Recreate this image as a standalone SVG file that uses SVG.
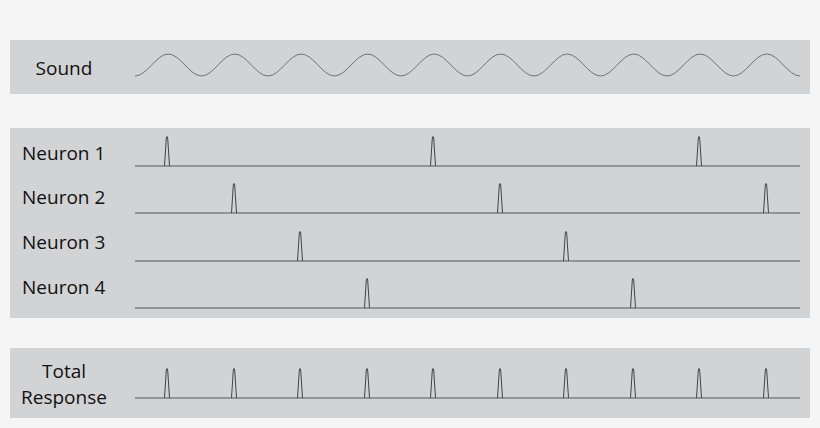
<svg xmlns="http://www.w3.org/2000/svg" width="820" height="428" viewBox="0 0 820 428">
<style>
.band{fill:#d2d3d5}
.t{font-family:"Open Sans","Liberation Sans",sans-serif;font-size:19px;fill:#111}
.ln{fill:none;stroke:#555;stroke-width:1.2}
</style>
<defs>
<path id="sp" d="M-2.5 0 L-0.7 -28 Q0 -31 0.7 -28 L2.5 0" fill="none" stroke="#444" stroke-width="1"/>
</defs>
<rect width="820" height="428" fill="#f5f5f5"/>
<g id="sound">
<rect class="band" x="10" y="40" width="800" height="54"/>
<text class="t" x="64" y="75" text-anchor="middle">Sound</text>
<path fill="none" stroke="#666" stroke-width="0.9" d="M135 76 c12 0 21.25 -22 33.25 -22 s21.25 22 33.25 22 s21.25 -22 33.25 -22 s21.25 22 33.25 22 s21.25 -22 33.25 -22 s21.25 22 33.25 22 s21.25 -22 33.25 -22 s21.25 22 33.25 22 s21.25 -22 33.25 -22 s21.25 22 33.25 22 s21.25 -22 33.25 -22 s21.25 22 33.25 22 s21.25 -22 33.25 -22 s21.25 22 33.25 22 s21.25 -22 33.25 -22 s21.25 22 33.25 22 s21.25 -22 33.25 -22 s21.25 22 33.25 22 s21.25 -22 33.25 -22 s21.25 22 33.25 22"/>
</g>
<rect class="band" x="10" y="128" width="800" height="190"/>
<g id="neuron1">
<text class="t" x="22" y="160">Neuron 1</text>
<line class="ln" x1="135" y1="166" x2="800" y2="166"/>
<use href="#sp" x="167" y="166"/><use href="#sp" x="433" y="166"/><use href="#sp" x="699" y="166"/>
</g>
<g id="neuron2">
<text class="t" x="22" y="204">Neuron 2</text>
<line class="ln" x1="135" y1="213" x2="800" y2="213"/>
<use href="#sp" x="234" y="213"/><use href="#sp" x="500" y="213"/><use href="#sp" x="766" y="213"/>
</g>
<g id="neuron3">
<text class="t" x="22" y="249">Neuron 3</text>
<line class="ln" x1="135" y1="261" x2="800" y2="261"/>
<use href="#sp" x="300" y="261"/><use href="#sp" x="566" y="261"/>
</g>
<g id="neuron4">
<text class="t" x="22" y="294">Neuron 4</text>
<line class="ln" x1="135" y1="308" x2="800" y2="308"/>
<use href="#sp" x="367" y="308"/><use href="#sp" x="633" y="308"/>
</g>
<g id="total">
<rect class="band" x="10" y="348" width="800" height="70"/>
<text class="t" x="64" y="378" text-anchor="middle">Total</text>
<text class="t" x="64" y="404" text-anchor="middle">Response</text>
<line class="ln" x1="135" y1="398" x2="800" y2="398"/>
<use href="#sp" x="167" y="398"/><use href="#sp" x="234" y="398"/><use href="#sp" x="300" y="398"/><use href="#sp" x="367" y="398"/><use href="#sp" x="433" y="398"/><use href="#sp" x="500" y="398"/><use href="#sp" x="566" y="398"/><use href="#sp" x="633" y="398"/><use href="#sp" x="699" y="398"/><use href="#sp" x="766" y="398"/>
</g>
</svg>
